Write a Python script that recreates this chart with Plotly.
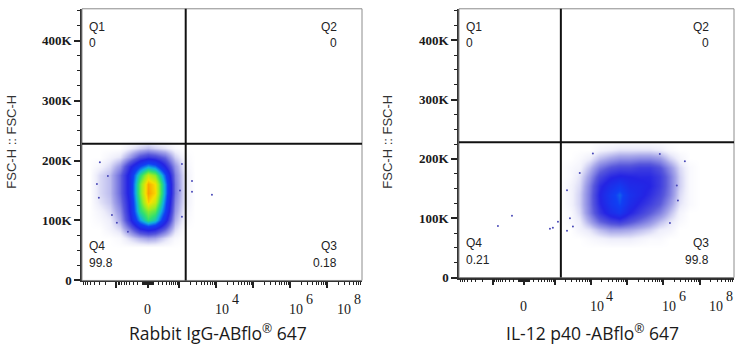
import numpy as np
import plotly.graph_objects as go

# ---------------- data ----------------
# biexponential-like display transform (FlowJo style)
COF = 289.0
def tx(v):
    return np.arcsinh(np.asarray(v, dtype=float) / COF) / np.log(10)

X_RANGE = [-1.78, 5.78]
Y_RANGE = [0, 453000]
GATE_X = 1500
GATE_Y = 228000

y_tickvals = [0, 100000, 200000, 300000, 400000]
y_ticktext = ["0", "100K", "200K", "300K", "400K"]
y_minor = [25000, 50000, 75000, 125000, 150000, 175000, 225000, 250000, 275000,
           325000, 350000, 375000, 425000, 450000]

x_major = [-1000, 0, 1000, 1e4, 1e5, 1e6, 1e7]
x_minor = ([-m * 10 ** k for k in (1, 2, 3) for m in range(2, 10)] +
           [m * 10 ** k for k in (1, 2) for m in range(1, 10)] +
           [m * 10 ** k for k in (3, 4, 5, 6, 7) for m in range(2, 10)])
x_label_exp = ["", "4", "6", "8"]
x_label_val = [0, 1e4, 1e6, 1e8]

# density grids (relative event density, 0-10)
left_xc = [-2860, -1530, -800, -400, -150, 0, 130, 370, 750, 1430]
left_yc = [70000, 85000, 100000, 115000, 130000, 145000, 160000, 175000, 190000, 205000, 220000]
left_z = [
    [0, 0, 0.1, 0.5, 0.9, 1.1, 1.0, 0.5, 0.1, 0],
    [0, 0.2, 0.5, 1.6, 2.9, 3.3, 3.0, 1.9, 0.5, 0],
    [0.1, 0.3, 1.0, 2.8, 5.0, 6.2, 5.6, 3.4, 0.9, 0.1],
    [0.2, 0.5, 1.3, 3.1, 6.0, 7.0, 6.6, 4.2, 1.2, 0.2],
    [0.4, 0.7, 1.6, 3.2, 6.4, 8.4, 7.7, 4.6, 1.4, 0.3],
    [0.5, 0.8, 1.8, 3.4, 6.8, 8.9, 8.3, 5.0, 1.6, 0.3],
    [0.5, 0.8, 1.8, 3.4, 6.8, 8.8, 8.2, 5.0, 1.6, 0.3],
    [0.5, 0.8, 1.8, 3.4, 6.0, 7.6, 7.0, 4.4, 1.5, 0.3],
    [0.2, 0.5, 1.2, 2.8, 4.2, 5.0, 4.6, 3.0, 1.2, 0.2],
    [0, 0.2, 0.4, 1.2, 2.2, 2.6, 2.4, 1.8, 0.6, 0.1],
    [0, 0, 0, 0.3, 0.6, 0.8, 0.6, 0.4, 0.1, 0],
]
right_xc = [2700, 5000, 9500, 18000, 34000, 63000, 120000, 224000, 420000,
            800000, 1500000, 2800000, 5300000]
right_yc = [65000, 80000, 95000, 110000, 125000, 140000, 155000, 170000, 185000, 200000, 215000]
right_z = [
    [0, 0, 0.1, 0.2, 0.3, 0.3, 0.3, 0.2, 0.1, 0.1, 0, 0, 0],
    [0, 0.2, 0.4, 0.8, 1.1, 1.1, 1.0, 0.8, 0.6, 0.3, 0.2, 0, 0],
    [0.1, 0.3, 1.0, 1.8, 2.3, 2.5, 2.1, 1.7, 1.3, 0.8, 0.4, 0.1, 0],
    [0.1, 0.5, 1.5, 2.6, 3.4, 3.8, 3.0, 2.5, 2.0, 1.5, 0.8, 0.2, 0],
    [0.2, 0.6, 1.6, 2.9, 3.8, 4.3, 3.4, 2.9, 2.5, 2.0, 1.2, 0.4, 0.1],
    [0.2, 0.6, 1.6, 3.0, 3.9, 4.5, 3.6, 3.2, 2.8, 2.3, 1.5, 0.5, 0.1],
    [0.2, 0.5, 1.5, 2.8, 3.5, 3.9, 3.3, 3.2, 3.0, 2.5, 1.6, 0.6, 0.1],
    [0.1, 0.4, 1.2, 2.3, 2.9, 3.1, 3.0, 2.9, 2.9, 2.5, 1.6, 0.6, 0.1],
    [0.1, 0.2, 0.8, 1.6, 2.1, 2.3, 2.3, 2.5, 2.5, 2.1, 1.3, 0.5, 0.1],
    [0, 0.1, 0.3, 0.8, 1.1, 1.3, 1.3, 1.4, 1.4, 1.2, 0.6, 0.2, 0],
    [0, 0, 0, 0.2, 0.3, 0.4, 0.4, 0.4, 0.4, 0.3, 0.1, 0, 0],
]

# individual sparse events
left_out_x = [-3440, -3040, -2860, -1730, -1340, -975, -460, 1180, 1040, 1180, 2230, 2230, 7740]
left_out_y = [161000, 138000, 197000, 174000, 109000, 96000, 81000, 194000, 150000, 106000,
              166000, 148000, 143000]
right_out_x = [-711, -236, 731, 890, 1243, 2225, 3880000, 2225, 2680, 3240, 5000,
               2330000, 2500000, 1510000, 11500, 794000]
right_out_y = [87000, 104000, 82000, 84000, 94000, 79000, 196000, 147000, 100000, 86000,
               176000, 155000, 130000, 92000, 209000, 208000]

quad_left = {"Q1": "0", "Q2": "0", "Q3": "0.18", "Q4": "99.8"}
quad_right = {"Q1": "0", "Q2": "0", "Q3": "99.8", "Q4": "0.21"}
x_titles = ["Rabbit IgG-ABflo<sup>®</sup> 647", "IL-12 p40 -ABflo<sup>®</sup> 647"]
y_title = "FSC-H :: FSC-H"

# ---------------- figure ----------------
W, H = 743, 350
panels = [
    dict(px0=82, px1=362, py0=9, py1=287, xc=left_xc, yc=left_yc, z=left_z,
         ox=left_out_x, oy=left_out_y, quad=quad_left, ytx=12),
    dict(px0=459, px1=734, py0=9, py1=284, xc=right_xc, yc=right_yc, z=right_z,
         ox=right_out_x, oy=right_out_y, quad=quad_right, ytx=388),
]

cscale = [
    [0.0, "#ffffff"], [0.03, "#eeeefb"], [0.1, "#a8a8ea"], [0.2, "#5858dc"],
    [0.3, "#2424e4"], [0.42, "#1040f4"], [0.52, "#10b0e0"], [0.62, "#30e070"],
    [0.72, "#a0ee20"], [0.82, "#f8e000"], [0.92, "#ff8000"], [1.0, "#ff1800"],
]


def padded(xc, yc, z):
    xs = np.asarray(tx(xc))
    dx0, dx1 = xs[1] - xs[0], xs[-1] - xs[-2]
    xs = np.concatenate([[xs[0] - dx0], xs, [xs[-1] + dx1]])
    ys = np.asarray(yc, dtype=float)
    dy = ys[1] - ys[0]
    ys = np.concatenate([[ys[0] - dy], ys, [ys[-1] + dy]])
    zz = np.pad(np.asarray(z, dtype=float), 1)
    return xs, ys, zz


fig = go.Figure()
SERIF = "Liberation Serif"
SANS = "Liberation Sans"
ann = []
shapes = []

for i, p in enumerate(panels):
    xa = "x" if i == 0 else "x2"
    ya = "y" if i == 0 else "y2"
    xkey = "xaxis" if i == 0 else "xaxis2"
    ykey = "yaxis" if i == 0 else "yaxis2"
    hx, hy, hz = padded(p["xc"], p["yc"], p["z"])
    fig.add_trace(go.Heatmap(
        x=hx, y=hy, z=hz, zmin=0, zmax=10, zsmooth="best",
        colorscale=cscale, showscale=False, hoverinfo="skip", xaxis=xa, yaxis=ya))
    fig.add_trace(go.Scatter(
        x=tx(p["ox"]), y=p["oy"], mode="markers", xaxis=xa, yaxis=ya,
        marker=dict(size=2, color="#4a4ab8"), hoverinfo="skip", showlegend=False))

    fig.update_layout({
        xkey: dict(domain=[p["px0"] / W, p["px1"] / W], range=X_RANGE, anchor=ya,
                   showgrid=False, zeroline=False, showline=True, linecolor="#333",
                   linewidth=1.5, ticks="outside", tickmode="array",
                   tickvals=list(tx(x_major)), ticklen=6, tickwidth=2, tickcolor="#222",
                   showticklabels=False,
                   minor=dict(tickmode="array", tickvals=list(tx(x_minor)), ticklen=3,
                              tickwidth=1.3, tickcolor="#222", ticks="outside", showgrid=False)),
        ykey: dict(domain=[(H - p["py1"]) / H, (H - p["py0"]) / H], range=Y_RANGE, anchor=xa,
                   showgrid=False, zeroline=False, showline=True, linecolor="#333",
                   linewidth=1.5, ticks="outside", tickmode="array", tickvals=y_tickvals,
                   ticktext=y_ticktext, ticklen=6, tickwidth=2, tickcolor="#222",
                   tickfont=dict(family=SERIF, size=13, color="#1a1a1a", weight="bold"),
                   minor=dict(tickmode="array", tickvals=y_minor, ticklen=3, tickwidth=1.3,
                              tickcolor="#222", ticks="outside", showgrid=False)),
    })

    # frame
    shapes.append(dict(type="rect", xref=xa + " domain", yref=ya + " domain", x0=0, x1=1, y0=0, y1=1,
                       line=dict(color="#8c8c8c", width=1), layer="above"))
    # gates
    gx = float(tx(GATE_X))
    shapes.append(dict(type="line", xref=xa, yref=ya + " domain", x0=gx, x1=gx, y0=0, y1=1,
                       line=dict(color="#111", width=2), layer="above"))
    shapes.append(dict(type="line", xref=xa + " domain", yref=ya, x0=0, x1=1, y0=GATE_Y, y1=GATE_Y,
                       line=dict(color="#111", width=2), layer="above"))

    # quadrant labels
    qf = dict(family=SANS, size=12, color="#222")
    for q, (xx, xan, yy) in {"Q1": (0, "left", 1), "Q2": (1, "right", 1),
                              "Q4": (0, "left", 0), "Q3": (1, "right", 0)}.items():
        if yy == 1:
            ylab_p = (H - (p["py0"] + 19)) / H
            yval_p = (H - (p["py0"] + 35)) / H
        else:
            ylab_p = (H - (p["py1"] - 35)) / H
            yval_p = (H - (p["py1"] - 18)) / H
        xp = (p["px0"] + 5) / W if xx == 0 else (p["px1"] - 23) / W
        ann.append(dict(xref="paper", yref="paper", x=xp, y=ylab_p, text=q, showarrow=False,
                        xanchor=xan, yanchor="middle", font=qf))
        ann.append(dict(xref="paper", yref="paper", x=xp, y=yval_p, text=p["quad"][q],
                        showarrow=False, xanchor=xan, yanchor="middle", font=qf))

    # x tick labels (FlowJo style 10 with raised exponent)
    tf = dict(family=SERIF, size=14, color="#1a1a1a")
    for v, e in zip(x_label_val, x_label_exp):
        u = float(tx(v))
        if e == "":
            ann.append(dict(xref=xa, yref=ya, x=u, y=0, text="0", showarrow=False,
                            yshift=-29, xanchor="center", yanchor="middle", font=tf))
            continue
        if u > X_RANGE[1]:
            base_x, s10, se = X_RANGE[1], -18, -5
        else:
            base_x, s10, se = u, 6, 19
        ann.append(dict(xref=xa, yref=ya, x=base_x, y=0, text="10", showarrow=False,
                        xshift=s10, yshift=-29, xanchor="center", yanchor="middle", font=tf))
        ann.append(dict(xref=xa, yref=ya, x=base_x, y=0, text=e, showarrow=False,
                        xshift=se, yshift=-19, xanchor="center", yanchor="middle", font=tf))

    # axis titles
    ann.append(dict(xref="paper", yref="paper", x=(p["px0"] + p["px1"]) / 2 / W - 0.006,
                    y=(H - 340) / H, text=x_titles[i], showarrow=False, xanchor="center",
                    yanchor="middle", font=dict(family="Open Sans", size=17.5, color="#1a1a1a")))
    ann.append(dict(xref="paper", yref="paper", x=p["ytx"] / W, y=(H - 145) / H, text=y_title,
                    showarrow=False, textangle=-90, xanchor="center", yanchor="middle",
                    font=dict(family=SANS, size=13, color="#333")))

fig.update_layout(width=W, height=H, margin=dict(l=0, r=0, t=0, b=0),
                  paper_bgcolor="white", plot_bgcolor="white", showlegend=False,
                  annotations=ann, shapes=shapes)
fig.write_html("out.html")
